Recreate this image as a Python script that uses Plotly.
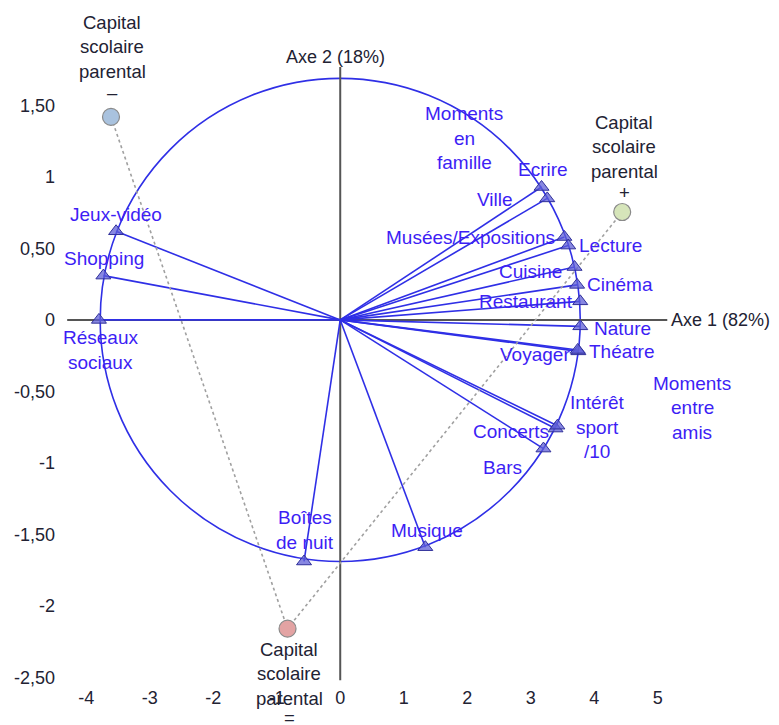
import plotly.graph_objects as go

# ---- Active variables (arrow tips on the correlation circle) ----
var_names = ["Jeux-vidéo", "Shopping", "Réseaux sociaux", "Ecrire", "Ville",
             "Musées/Expositions", "Lecture", "Cuisine", "Cinéma", "Restaurant",
             "Nature", "Théatre", "Voyager", "Concerts", "Intérêt sport /10",
             "Bars", "Musique", "Boîtes de nuit"]
var_x = [-3.53, -3.73, -3.80, 3.17, 3.26, 3.53, 3.59, 3.69, 3.73, 3.78,
         3.78, 3.75, 3.74, 3.39, 3.42, 3.20, 1.34, -0.57]
var_y = [0.62, 0.31, 0.0, 0.93, 0.85, 0.58, 0.52, 0.37, 0.245, 0.13,
         -0.045, -0.22, -0.21, -0.76, -0.74, -0.90, -1.59, -1.69]

# ---- Label texts and positions ----
label_text = ["Jeux-vidéo", "Shopping", "Réseaux\nsociaux", "Ecrire", "Ville",
              "Musées/Expositions", "Lecture", "Cuisine", "Cinéma", "Restaurant",
              "Nature", "Théatre", "Voyager", "Concerts", "Intérêt\nsport\n/10",
              "Bars", "Musique", "Boîtes\nde nuit",
              "Moments\nen\nfamille", "Moments\nentre\namis"]
label_x = [-3.53, -3.72, -3.78, 3.20, 2.44, 2.05, 4.25, 3.00, 4.41, 2.93,
           4.44, 4.43, 3.07, 2.69, 4.05, 2.55, 1.37, -0.55, 1.95, 5.54]
label_y = [0.74, 0.43, -0.21, 1.05, 0.84, 0.58, 0.52, 0.34, 0.245, 0.126,
           -0.06, -0.22, -0.245, -0.78, -0.75, -1.03, -1.47, -1.47, 1.27, -0.615]

# ---- Supplementary points: Capital scolaire parental ----
sup_names = ["–", "=", "+"]
sup_x = [-3.61, -0.83, 4.44]
sup_y = [1.42, -2.16, 0.755]
sup_colors = ["#a9c2de", "#e3a3a3", "#d6e5ba"]
sup_label = "Capital\nscolaire\nparental"
sup_label_x = [-3.59, -0.80, 4.47]
sup_label_y = [1.91, -2.475, 1.21]
sup_sign_y = [1.59, -2.78, 0.89]

# ---- Ticks ----
xtick_vals = [-4, -3, -2, -1, 0, 1, 2, 3, 4, 5]
xtick_text = ["-4", "-3", "-2", "-1", "0", "1", "2", "3", "4", "5"]
ytick_vals = [1.5, 1, 0.5, 0, -0.5, -1, -1.5, -2, -2.5]
ytick_text = ["1,50", "1", "0,50", "0", "-0,50", "-1", "-1,50", "-2", "-2,50"]

axis1_title = "Axe 1 (82%)"
axis2_title = "Axe 2 (18%)"

BLUE_LINE = "#2f2fe6"
BLUE_TEXT = "#3d1ef5"
DARK = "#222233"
FONT = "Liberation Sans, Arial, sans-serif"
LINE_H = 24.5

X_RANGE = [-4.35, 5.193]
Y_RANGE = [-2.54, 2.182]
W, H = 771, 717
M_L, M_R, M_T, M_B = 56, 109, 0, 42
PX_X = (W - M_L - M_R) / (X_RANGE[1] - X_RANGE[0])
PX_Y = (H - M_T - M_B) / (Y_RANGE[1] - Y_RANGE[0])

fig = go.Figure()

# arrows from origin
lx, ly = [], []
for x, y in zip(var_x, var_y):
    lx += [0, x, None]
    ly += [0, y, None]
fig.add_trace(go.Scatter(x=lx, y=ly, mode="lines",
                         line=dict(color=BLUE_LINE, width=1.6),
                         hoverinfo="skip", showlegend=False))

# dotted path linking supplementary points (−, =, +)
fig.add_trace(go.Scatter(x=sup_x, y=sup_y, mode="lines",
                         line=dict(color="#a0a0a0", width=1.6, dash="dot"),
                         hoverinfo="skip", showlegend=False))

# triangles at arrow tips
fig.add_trace(go.Scatter(x=var_x, y=var_y, mode="markers",
                         marker=dict(symbol="triangle-up", size=13,
                                     color="rgba(95,95,215,0.75)",
                                     line=dict(color="#30309a", width=1)),
                         text=var_names, hoverinfo="text", showlegend=False))

# supplementary points
fig.add_trace(go.Scatter(x=sup_x, y=sup_y, mode="markers",
                         marker=dict(symbol="circle", size=17, color=sup_colors,
                                     line=dict(color="#8a8a8a", width=1.2)),
                         hoverinfo="skip", showlegend=False))

annotations = []


def add_multiline(text, x, y, color, size):
    # keep the anchor inside the axis ranges (plotly hides off-range anchors)
    ax_x = min(max(x, X_RANGE[0] + 0.01), X_RANGE[1] - 0.01)
    ax_y = min(max(y, Y_RANGE[0] + 0.01), Y_RANGE[1] - 0.01)
    xs = (x - ax_x) * PX_X
    ys = (y - ax_y) * PX_Y
    lines = text.split("\n")
    n = len(lines)
    for i, ln in enumerate(lines):
        annotations.append(dict(x=ax_x, y=ax_y, xref="x", yref="y", text=ln,
                                showarrow=False, xanchor="center", yanchor="middle",
                                xshift=xs,
                                yshift=ys + ((n - 1) / 2 - i) * LINE_H,
                                font=dict(family=FONT, size=size, color=color)))


for t, x, y in zip(label_text, label_x, label_y):
    add_multiline(t, x, y, BLUE_TEXT, 19)

for s, x, y, sy in zip(sup_names, sup_label_x, sup_label_y, sup_sign_y):
    add_multiline(sup_label, x, y, DARK, 18.5)
    add_multiline(s, x, sy, DARK, 18.5)

annotations.append(dict(x=5.17, y=0, xref="x", yref="y", text=axis1_title,
                        showarrow=False, xanchor="left", yanchor="middle",
                        font=dict(family=FONT, size=18, color=DARK)))
annotations.append(dict(x=-0.08, y=1.84, xref="x", yref="y", text=axis2_title,
                        showarrow=False, xanchor="center", yanchor="middle",
                        font=dict(family=FONT, size=18, color=DARK)))

shapes = [
    # correlation circle (round in pixels)
    dict(type="circle", xref="x", yref="y", x0=-3.78, x1=3.78, y0=-1.69, y1=1.69,
         line=dict(color=BLUE_LINE, width=1.6), layer="below"),
    # axis lines
    dict(type="line", xref="x", yref="y", x0=-4.3, x1=5.15, y0=0, y1=0,
         line=dict(color="#555555", width=2), layer="below"),
    dict(type="line", xref="x", yref="y", x0=0, x1=0, y0=-2.52, y1=1.77,
         line=dict(color="#555555", width=2), layer="below"),
]

fig.update_layout(
    width=W, height=H,
    margin=dict(l=M_L, r=M_R, t=M_T, b=M_B),
    paper_bgcolor="white", plot_bgcolor="white",
    showlegend=False,
    annotations=annotations,
    shapes=shapes,
    font=dict(family=FONT, size=18, color=DARK),
    xaxis=dict(range=X_RANGE, tickvals=xtick_vals, ticktext=xtick_text,
               showgrid=False, zeroline=False, showline=False, ticks="",
               ticklabelstandoff=2, fixedrange=True,
               tickfont=dict(family=FONT, size=18, color=DARK)),
    yaxis=dict(range=Y_RANGE, tickvals=ytick_vals, ticktext=ytick_text,
               showgrid=False, zeroline=False, showline=False, ticks="",
               ticklabelstandoff=8, fixedrange=True,
               tickfont=dict(family=FONT, size=18, color=DARK)),
)

fig.write_html("out.html")
